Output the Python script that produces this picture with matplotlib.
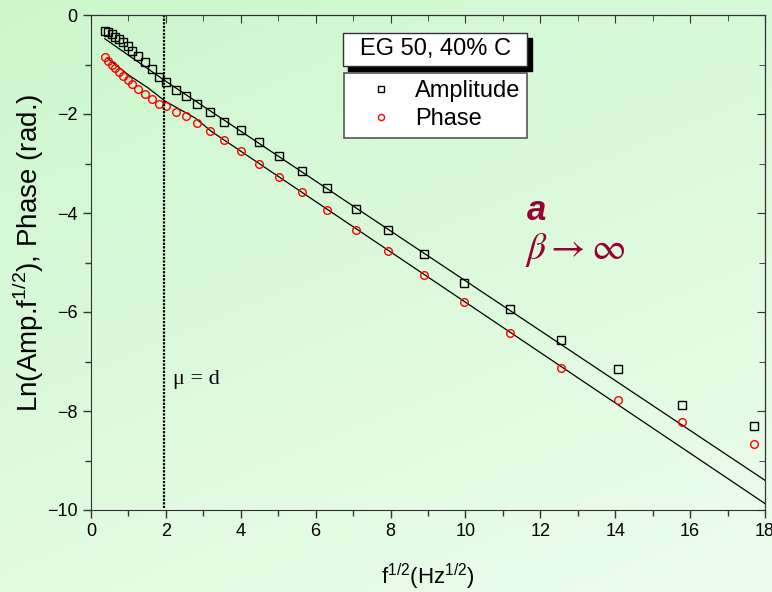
import numpy as np
import matplotlib
matplotlib.use("Agg")
import matplotlib.pyplot as plt
from matplotlib.patches import Rectangle
from matplotlib.ticker import MultipleLocator

plt.rcParams["font.family"] = ["Liberation Sans", "DejaVu Sans"]
plt.rcParams["mathtext.fontset"] = "custom"
plt.rcParams["mathtext.rm"] = "Liberation Sans"

# data (x = sqrt(f))
sqrt_f = [0.37, 0.45, 0.56, 0.64, 0.75, 0.85, 0.99, 1.09, 1.25, 1.44, 1.63, 1.82, 2.01,
          2.27, 2.54, 2.83, 3.18, 3.55, 4.01, 4.49, 5.02, 5.64, 6.30, 7.08, 7.93,
          8.89, 9.96, 11.19, 12.55, 14.08, 15.79, 17.71]
amplitude = [-0.32, -0.34, -0.38, -0.44, -0.48, -0.55, -0.63, -0.73, -0.83, -0.95, -1.09,
             -1.25, -1.35, -1.52, -1.64, -1.80, -1.96, -2.16, -2.32, -2.57, -2.85, -3.15,
             -3.49, -3.92, -4.34, -4.83, -5.41, -5.94, -6.57, -7.15, -7.88, -8.30]
phase = [-0.85, -0.93, -1.00, -1.07, -1.15, -1.23, -1.32, -1.39, -1.49, -1.60, -1.70,
         -1.79, -1.84, -1.95, -2.05, -2.18, -2.34, -2.53, -2.75, -3.01, -3.27, -3.58,
         -3.94, -4.34, -4.77, -5.25, -5.80, -6.42, -7.13, -7.78, -8.22, -8.67]

# model curves (beta -> infinity)
fit_x_amp = [0.37, 2.0, 18.0]
fit_y_amp = [-0.48, -1.34, -9.40]
fit_x_ph = [0.43, 1.0, 1.52, 1.98, 2.78, 3.23, 18.0]
fit_y_ph = [-0.87, -1.21, -1.47, -1.74, -2.08, -2.36, -9.87]

mu_eq_d = 1.95

fig = plt.figure(figsize=(7.72, 5.92), dpi=100)

# background gradient
bg = fig.add_axes([0, 0, 1, 1], zorder=-10)
gy, gx = np.mgrid[0:1:200j, 0:1:200j]
t = np.clip(0.65 * gy + 0.35 * gx, 0, 1)
c0 = np.array([0.80, 0.97, 0.80])
c1 = np.array([0.93, 0.99, 0.93])
img = c0[None, None, :] * (1 - t[..., None]) + c1[None, None, :] * t[..., None]
bg.imshow(img, aspect="auto", extent=[0, 1, 0, 1])
bg.axis("off")

ax = fig.add_axes([91 / 772, 1 - 510 / 592, 674 / 772, 495 / 592])
ax.set_facecolor("none")

ax.plot(fit_x_amp, fit_y_amp, color="black", lw=0.9)
ax.plot(fit_x_ph, fit_y_ph, color="black", lw=0.9)
ax.plot(sqrt_f, amplitude, "s", ms=5.5, mfc="none", mec="black", mew=1.0, label="Amplitude")
ax.plot(sqrt_f, phase, "o", ms=5.5, mfc="none", mec="red", mew=1.0, label="Phase")
ax.axvline(mu_eq_d, ymin=0.005, ymax=1, color="black", ls=(0, (1.0, 0.6)), lw=1.6)

ax.set_xlim(0, 18)
ax.set_ylim(-10, 0)
ax.xaxis.set_major_locator(MultipleLocator(2))
ax.xaxis.set_minor_locator(MultipleLocator(1))
ax.yaxis.set_major_locator(MultipleLocator(2))
ax.yaxis.set_minor_locator(MultipleLocator(1))
ax.tick_params(which="both", direction="out", labelsize=13, color="#333333", width=1)
ax.tick_params(which="major", length=6)
ax.tick_params(which="minor", length=4)
for s in ax.spines.values():
    s.set_color("#333333")

top = ax.secondary_xaxis("top")
top.xaxis.set_major_locator(MultipleLocator(2))
top.xaxis.set_minor_locator(MultipleLocator(1))
top.tick_params(which="both", direction="in", labeltop=False, color="#333333")
top.tick_params(which="major", length=6)
top.tick_params(which="minor", length=4)
right = ax.secondary_yaxis("right")
right.yaxis.set_major_locator(MultipleLocator(2))
right.yaxis.set_minor_locator(MultipleLocator(1))
right.tick_params(which="both", direction="in", labelright=False, color="#333333")
right.tick_params(which="major", length=6)
right.tick_params(which="minor", length=4)

ax.set_xlabel(r"f$^{1/2}$(Hz$^{1/2}$)", fontsize=16)
ax.xaxis.set_label_coords(0.5, -0.105)
ax.set_ylabel(r"Ln(Amp.f$^{1/2}$), Phase (rad.)", fontsize=20)
ax.yaxis.set_label_coords(-0.067, 0.52)

ax.text(2.19, -7.37, "μ = d", fontsize=16, family="Liberation Serif",
        va="center", ha="left")
ax.text(11.65, -3.94, "a", fontsize=25, color="#990033", fontweight="bold", style="italic",
        va="center", ha="left")
ax.text(11.6, -4.75, r"$\beta \rightarrow \infty$", fontsize=27, color="#990033",
        math_fontfamily="stix", va="center", ha="left")

# title box with shadow
fig.patches.append(Rectangle((348 / 772, 1 - 71 / 592), 184 / 772, 33 / 592,
                             transform=fig.transFigure, facecolor="black", edgecolor="black", zorder=5))
fig.patches.append(Rectangle((343 / 772, 1 - 66 / 592), 184 / 772, 33 / 592,
                             transform=fig.transFigure, facecolor="white", edgecolor="#333333",
                             lw=1, zorder=6))
fig.text(436 / 772, 1 - 49 / 592, "EG 50, 40% C", fontsize=17,
         ha="center", va="center", zorder=7)

leg = fig.legend(loc="upper left", bbox_to_anchor=(344 / 772, 1 - 73 / 592),
                 prop={"size": 17}, frameon=True, fancybox=False,
                 borderaxespad=0, markerscale=0.8, handlelength=2.5, handletextpad=0.2,
                 borderpad=0.3, labelspacing=0.27)
leg.get_frame().set_edgecolor("#555555")
leg.get_frame().set_linewidth(1.2)
leg.get_frame().set_alpha(1)

fig.savefig("out.png", dpi=100)
